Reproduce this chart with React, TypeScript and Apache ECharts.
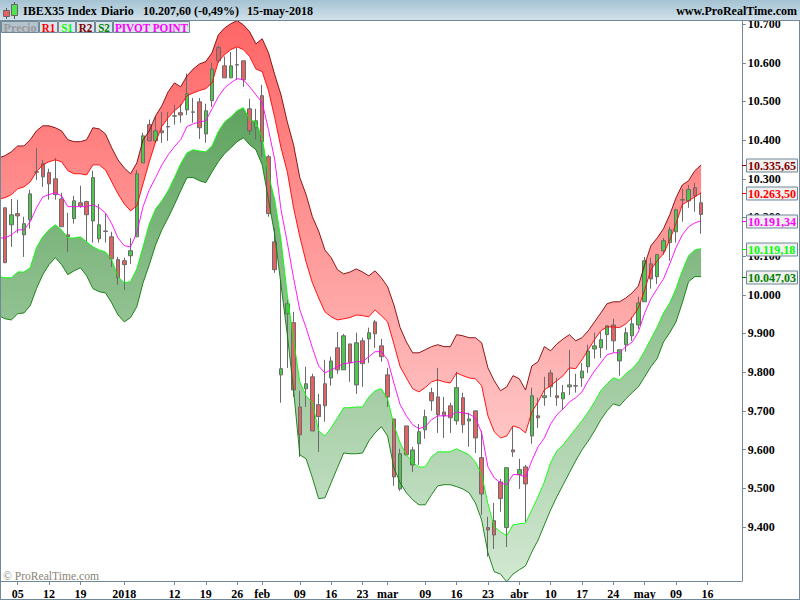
import React, { useEffect, useRef } from "react";
import * as echarts from "echarts";

const FONT = '"Liberation Serif", "Times New Roman", serif';
const FRAME = "#708898";

// Date ticks: candle number and label
const xTickBars = [2, 7, 12, 19, 27, 32, 37, 41, 47, 52, 57, 61, 67, 72, 77, 82, 87, 92, 97, 102, 107, 112];
const xTickLabels = ["05", "12", "19", "2018", "12", "19", "26", "feb", "09", "16", "23", "mar", "09", "16", "23", "abr", "10", "17", "24", "may", "09", "16"];
const yTicks = [10700, 10600, 10500, 10400, 10300, 10200, 10100, 10000, 9900, 9800, 9700, 9600, 9500, 9400];

// Candles
const opens = [10225,10181,10210,10155,10194,10317,10339,10316,10300,10248,10155,10197,10238,10241,10191,10145,10165,10150,10091,10088,10101,10150,
10341,10440,10398,10424,10434,10462,10471,10478,10472,10499,10416,10502,10639,10592,10561,10594,10605,10481,10432,10515,10357,10137,9793,9951,9928,9710,
9757,9788,9716,9770,9785,9863,9806,9873,9767,9881,9886,9930,9868,9793,9679,9498,9661,9560,9615,9651,9747,9736,9697,9713,9674,9734,9674,9700,9579,9398,
9416,9516,9398,9599,9535,9555,9635,9687,9734,9798,9739,9731,9762,9764,9785,9814,9860,9863,9897,9922,9829,9871,9894,9922,9982,10080,10047,10114,10135,10163,10245,10243,10277,10238];
const closes = [10083,10207,10204,10184,10261,10318,10305,10287,10259,10176,10150,10243,10230,10207,10303,10181,10164,10093,10044,10078,10114,10313,
10411,10398,10424,10419,10435,10463,10465,10520,10473,10432,10476,10584,10605,10561,10592,10595,10556,10424,10450,10396,10210,10065,9809,9977,9754,9638,
9770,9648,9685,9713,9829,9806,9894,9824,9876,9822,9902,9899,9840,9736,9529,9589,9586,9599,9646,9685,9726,9690,9687,9682,9760,9664,9679,9630,9485,9392,
9379,9473,9553,9594,9548,9511,9739,9682,9739,9762,9734,9747,9767,9765,9803,9855,9868,9884,9920,9881,9858,9902,9925,9979,10088,10041,10104,10140,10168,10220,10246,10272,10256,10207.6];
const lows = [10083,10124,10160,10098,10171,10297,10279,10246,10246,10176,10111,10184,10225,10137,10135,10135,10135,10072,10026,10013,10080,10150,
10341,10398,10393,10393,10398,10440,10445,10465,10445,10403,10393,10486,10600,10561,10561,10556,10538,10414,10401,10357,10202,10057,9721,9811,9736,9581,
9710,9648,9594,9672,9765,9796,9806,9775,9744,9762,9824,9863,9827,9710,9506,9493,9586,9542,9560,9628,9700,9643,9630,9643,9664,9643,9607,9591,9431,9323,
9343,9439,9348,9581,9498,9413,9615,9656,9713,9736,9713,9703,9741,9747,9762,9798,9835,9837,9858,9850,9791,9853,9881,9912,9982,10016,10028,10104,10088,10135,10189,10225,10215,10158];
const highs = [10225,10248,10246,10202,10272,10380,10349,10326,10354,10264,10212,10256,10282,10243,10321,10235,10210,10163,10098,10096,10147,10323,
10419,10453,10460,10473,10473,10491,10494,10572,10509,10509,10494,10600,10644,10616,10628,10639,10605,10507,10481,10543,10362,10173,10039,9987,9956,9752,
9814,9796,9744,9832,9840,9904,9899,9873,9902,9889,9915,9935,9886,9811,9679,9602,9661,9607,9666,9703,9760,9811,9736,9721,9801,9747,9695,9700,9648,9426,
9462,9524,9553,9659,9576,9560,9760,9734,9788,9806,9785,9767,9858,9796,9824,9871,9902,9904,9920,9938,9858,9915,9943,9995,10098,10096,10104,10147,10176,10222,10274,10284,10290,10264];

// Pivot bands, with one extra leading point (the bar before the first visible candle)
const r2 = [10354,10360,10370,10385,10385,10401,10424,10437,10437,10432,
10424,10401,10396,10396,10401,10432,10429,10416,10380,10349,
10328,10313,10341,10401,10424,10463,10489,10525,10548,10538,
10566,10584,10597,10603,10626,10672,10690,10701,10709,10698,
10680,10649,10662,10626,10569,10517,10447,10388,10303,10259,
10202,10165,10116,10096,10065,10054,10059,10067,10059,10049,
10062,10044,10021,9974,9915,9878,9850,9850,9858,9866,
9871,9866,9866,9897,9894,9889,9889,9876,9811,9778,
9752,9762,9791,9783,9754,9816,9827,9866,9855,9873,
9886,9897,9881,9889,9907,9930,9953,9977,9982,9982,
9992,10005,10023,10078,10127,10147,10171,10207,10251,10284,
10295,10321,10335.65];
const r1 = [10248,10251,10259,10274,10279,10292,10318,10336,10344,10349,
10344,10321,10313,10313,10310,10336,10336,10323,10292,10261,
10235,10217,10230,10287,10344,10396,10435,10458,10476,10489,
10515,10522,10528,10533,10548,10603,10621,10634,10641,10634,
10616,10584,10577,10528,10458,10380,10318,10225,10150,10085,
10031,9992,9956,9943,9935,9938,9941,9948,9946,9943,
9961,9946,9930,9873,9814,9785,9757,9749,9760,9775,
9780,9775,9772,9798,9791,9785,9783,9765,9687,9646,
9630,9635,9661,9656,9643,9697,9723,9754,9765,9778,
9791,9811,9809,9832,9858,9884,9907,9917,9917,9915,
9925,9941,9966,10013,10065,10088,10106,10142,10184,10233,
10243,10253,10263.5];
const pivot = [10147,10147,10155,10168,10168,10189,10225,10253,10259,10264,
10256,10228,10228,10228,10228,10233,10225,10212,10184,10147,
10127,10124,10160,10228,10272,10303,10336,10362,10383,10401,
10435,10442,10447,10450,10481,10512,10535,10548,10559,10556,
10538,10517,10497,10427,10349,10220,10135,10044,9961,9915,
9863,9816,9798,9806,9814,9822,9824,9827,9827,9840,
9853,9853,9832,9772,9716,9687,9664,9654,9659,9677,
9687,9687,9687,9697,9695,9692,9682,9643,9555,9527,
9514,9509,9535,9535,9529,9571,9607,9630,9666,9690,
9705,9723,9734,9749,9778,9803,9824,9845,9850,9850,
9866,9878,9904,9953,9990,10016,10041,10080,10122,10155,
10176,10186,10191.34];
const s1 = [10047,10044,10044,10059,10059,10070,10122,10150,10168,10181,
10168,10147,10147,10150,10137,10124,10116,10111,10091,10047,
10031,10034,10067,10124,10184,10222,10243,10269,10303,10339,
10367,10375,10372,10370,10385,10422,10447,10460,10476,10484,
10453,10447,10406,10310,10246,10142,10000,9884,9775,9739,
9721,9648,9635,9656,9682,9708,9708,9710,9710,9736,
9752,9757,9731,9664,9617,9586,9566,9555,9555,9581,
9594,9594,9594,9602,9594,9586,9568,9535,9460,9400,
9387,9377,9405,9408,9410,9444,9478,9516,9566,9597,
9612,9633,9654,9674,9697,9723,9752,9770,9785,9780,
9796,9809,9827,9855,9886,9917,9953,9979,10016,10062,
10101,10116,10119.18];
const s2 = [9946,9938,9935,9951,9953,9972,10016,10052,10078,10096,
10078,10052,10062,10070,10049,10016,10008,10005,9979,9948,
9930,9941,9969,10031,10078,10129,10168,10199,10233,10269,
10303,10303,10295,10290,10318,10344,10365,10380,10396,10406,
10388,10375,10336,10246,10155,10026,9897,9754,9586,9576,
9527,9473,9475,9514,9553,9591,9589,9589,9591,9622,
9643,9659,9635,9553,9514,9488,9470,9457,9457,9483,
9506,9509,9509,9504,9498,9488,9462,9418,9333,9284,
9278,9258,9278,9289,9299,9335,9366,9405,9444,9478,
9509,9540,9571,9599,9622,9648,9677,9700,9718,9713,
9731,9747,9762,9788,9814,9835,9878,9902,9930,9979,
10034,10047,10047.03];

const levelLabels = ["10.335,65", "10.263,50", "10.191,34", "10.119,18", "10.047,03"];
const levelValues = [10335.65, 10263.5, 10191.34, 10119.18, 10047.03];
const levelColors = ["#800000", "#ff0000", "#ff00ff", "#00ff00", "#008000"];

const legendNames = ["Precio", "R1", "S1", "R2", "S2", "PIVOT POINT"];
const legendColors = ["#9a9a9a", "#ff0000", "#00ff00", "#800000", "#008000", "#ff00ff"];
const legendEdges = [1, 39, 58, 76, 95, 113, 190];
const legendStretch = [0.94, 0.85, 0.85, 0.85, 0.85, 0.86];

const BAR_SLOTS = 119;

function headerGraphics(): any[] {
  const txt = (x: number, y: number, text: string, fill: string, align = "left", size = 12) => ({
    type: "text", z: 100, x, y,
    style: { text, fill, font: `bold ${size}px ${FONT}`, align, verticalAlign: "middle" },
  });
  const els: any[] = [
    // frame
    { type: "rect", z: 99, shape: { x: 0, y: 0, width: 800, height: 20 },
      style: { fill: new echarts.graphic.LinearGradient(0, 0, 0, 1, [{ offset: 0, color: "#a4c2d2" }, { offset: 1, color: "#d2e1ea" }]) } },
    { type: "line", z: 100, shape: { x1: 0, y1: 20.5, x2: 800, y2: 20.5 }, style: { stroke: FRAME, lineWidth: 1 } },
    { type: "rect", z: 98, shape: { x: 0, y: 0, width: 1, height: 600 }, style: { fill: FRAME } },
    { type: "rect", z: 98, shape: { x: 799, y: 0, width: 1, height: 600 }, style: { fill: FRAME } },
    { type: "rect", z: 98, shape: { x: 0, y: 599, width: 800, height: 1 }, style: { fill: FRAME } },
    // logo
    { type: "line", z: 101, shape: { x1: 6.5, y1: 8, x2: 6.5, y2: 19 }, style: { stroke: "#555", lineWidth: 1 } },
    { type: "rect", z: 101, shape: { x: 3.5, y: 10.5, width: 6, height: 6 }, style: { fill: "#e86060", stroke: "#666", lineWidth: 1 } },
    { type: "line", z: 101, shape: { x1: 14.5, y1: 2, x2: 14.5, y2: 19 }, style: { stroke: "#555", lineWidth: 1 } },
    { type: "rect", z: 101, shape: { x: 11.5, y: 4.5, width: 6, height: 11 }, style: { fill: "#50e050", stroke: "#666", lineWidth: 1 } },
    txt(23, 10.5, "IBEX35 Index", "#000"),
    txt(101, 10.5, "Diario", "#000"),
    txt(143, 10.5, "10.207,60 (-0,49%)", "#000"),
    txt(247, 10.5, "15-may-2018", "#000"),
    txt(797, 10.5, "www.ProRealTime.com", "#000", "right", 12),
    { type: "text", z: 100, x: 3, y: 576, style: { text: "© ProRealTime.com", fill: "#8a8478", font: `11.6px ${FONT}`, verticalAlign: "middle" } },
  ];
  legendNames.forEach((name, i) => {
    const x0 = legendEdges[i];
    const x1 = legendEdges[i + 1];
    els.push({
      type: "rect", z: 100, shape: { x: x0 + 0.5, y: 21.5, width: x1 - x0 - 1, height: 11 },
      style: { fill: i === 0 ? "#b4c4ce" : "#dbe6ed", stroke: FRAME, lineWidth: 1 },
    });
    els.push({
      type: "text", z: 101, x: (x0 + x1) / 2, y: 27.5, scaleX: legendStretch[i],
      style: { text: name, fill: legendColors[i], font: `bold 13px ${FONT}`, align: "center", verticalAlign: "middle" },
    });
  });
  return els;
}

export default function App() {
  const ref = useRef<HTMLDivElement>(null);
  useEffect(() => {
    document.body.style.margin = "0";
    const chart = echarts.init(ref.current!, null, { renderer: "svg" });

    const tickAt = new Map(xTickBars.map((b, i) => [b + 1, xTickLabels[i]]));
    const categories = Array.from({ length: BAR_SLOTS }, (_, i) => tickAt.get(i) ?? "");
    const isTick = (index: number) => tickAt.has(index);
    const candles: any[] = ["-", ...opens.map((o, i) => [o, closes[i], lows[i], highs[i]])];

    const redFill = new echarts.graphic.LinearGradient(0, 21, 0, 450,
      [{ offset: 0, color: "#ff6666" }, { offset: 1, color: "#ffc8c8" }], true);
    const greenFill = new echarts.graphic.LinearGradient(0, 21, 0, 581,
      [{ offset: 0, color: "#4a974a" }, { offset: 1, color: "#d2e8d2" }], true);

    const bandBase = (name: string, data: number[], stack: string) => ({
      name, type: "line", stack, data, symbol: "none", silent: true, z: 1,
      lineStyle: { width: 0, opacity: 0 },
    });
    const bandFill = (name: string, lower: number[], upper: number[], stack: string, fill: any) => ({
      name, type: "line", stack, data: upper.map((v, i) => v - lower[i]), symbol: "none", silent: true, z: 1,
      lineStyle: { width: 0, opacity: 0 }, areaStyle: { color: fill, opacity: 1 },
    });
    const edge = (name: string, data: number[], color: string) => ({
      name, type: "line", data, symbol: "none", silent: true, z: 3,
      lineStyle: { color, width: 0.9 },
    });

    chart.setOption({
      animation: false,
      backgroundColor: "#ffffff",
      grid: { left: -4.27, top: 21, width: 746.13, height: 560, containLabel: false, outerBoundsMode: "none" },
      xAxis: {
        type: "category",
        data: categories,
        boundaryGap: true,
        axisLine: { show: true, lineStyle: { color: FRAME, width: 1 } },
        axisTick: { show: true, length: 4, alignWithLabel: true, interval: (i: number) => isTick(i), lineStyle: { color: FRAME } },
        axisLabel: {
          show: true, interval: (i: number) => isTick(i), margin: 7, hideOverlap: false,
          color: "#000", fontFamily: FONT, fontWeight: "bold", fontSize: 12,
        },
        splitLine: { show: false },
      },
      yAxis: {
        type: "value",
        position: "right",
        min: 9260,
        max: 10708,
        axisLine: { show: true, onZero: false, lineStyle: { color: FRAME, width: 1 } },
        axisTick: { show: true, length: 4, customValues: yTicks, lineStyle: { color: FRAME } },
        axisLabel: {
          show: true, customValues: yTicks, margin: 6, showMinLabel: true, showMaxLabel: true,
          formatter: (v: number) => (v / 1000).toFixed(3),
          color: "#000", fontFamily: FONT, fontWeight: "bold", fontSize: 12,
        },
        splitLine: { show: false },
      },
      series: [
        bandBase("R1 base", r1, "red"),
        bandFill("R band", r1, r2, "red", redFill),
        bandBase("S2 base", s2, "green"),
        bandFill("S band", s2, s1, "green", greenFill),
        {
          name: "Precio", type: "candlestick", data: candles, barWidth: 4, silent: true, z: 2,
          itemStyle: {
            color: "#4cc84c", color0: "#e06464",
            borderColor: "#6a6a6a", borderColor0: "#6a6a6a", borderColorDoji: "#6a6a6a", borderWidth: 1,
          },
        },
        edge("R2", r2, "#800000"),
        edge("R1", r1, "#ff0000"),
        edge("PIVOT POINT", pivot, "#ff00ff"),
        edge("S1", s1, "#00ff00"),
        edge("S2", s2, "#0a7a0a"),
      ],
      graphic: { elements: headerGraphics() },
    });

    const levelEls: any[] = [];
    levelValues.forEach((v, i) => {
      const y = Math.round(chart.convertToPixel({ yAxisIndex: 0 }, v) as number);
      levelEls.push(
        { type: "line", z: 102, shape: { x1: 742, y1: y + 0.5, x2: 746, y2: y + 0.5 }, style: { stroke: levelColors[i], lineWidth: 1 } },
        { type: "rect", z: 102, shape: { x: 746.5, y: y - 6, width: 51, height: 13 }, style: { fill: "#f0f0f0", stroke: FRAME, lineWidth: 1 } },
        {
          type: "text", z: 103, x: 748, y: y + 1,
          style: { text: levelLabels[i], fill: levelColors[i], font: `bold 12px ${FONT}`, verticalAlign: "middle" },
        },
      );
    });
    chart.setOption({ graphic: { elements: [...headerGraphics(), ...levelEls] } });

    return () => chart.dispose();
  }, []);
  return <div ref={ref} style={{ width: 800, height: 600 }} />;
}
